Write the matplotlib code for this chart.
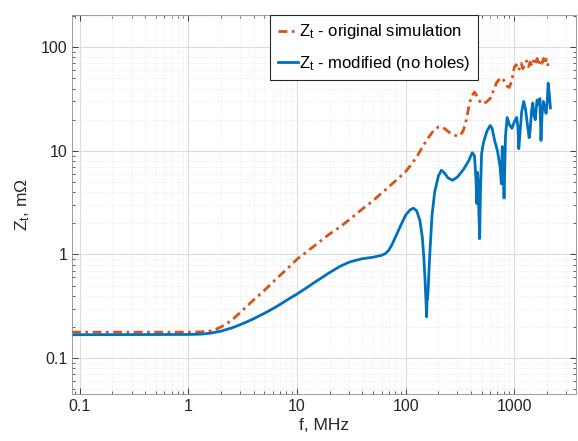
import numpy as np
import matplotlib.pyplot as plt
from matplotlib.ticker import LogLocator, NullFormatter, FixedLocator, FixedFormatter

plt.rcParams['font.family'] = ['Liberation Sans', 'DejaVu Sans']
plt.rcParams['mathtext.fontset'] = 'custom'
plt.rcParams['mathtext.rm'] = 'Liberation Sans'
plt.rcParams['mathtext.it'] = 'Liberation Sans'

# original simulation (orange, dash-dot)
f_orig = [0.085, 1.0, 1.3, 1.6, 1.8, 2.0, 2.3, 2.6, 3, 3.5, 4, 5, 6, 7, 8.5, 10,
          12, 15, 20, 25, 30, 40, 50, 60, 70, 85, 100, 115, 130, 145, 160,
          180, 200, 215, 230, 250, 270, 300, 320, 340, 360, 380, 400, 430,
          460, 490, 510, 550, 600, 650, 690, 730, 770, 810, 860, 900, 940,
          980, 1000, 1040, 1080, 1120, 1160, 1200, 1250, 1300, 1350, 1400,
          1450, 1500, 1560, 1620, 1680, 1740, 1800, 1860, 1920, 1980, 2050]
z_orig = [0.178, 0.178, 0.179, 0.183, 0.19, 0.2, 0.218, 0.24, 0.275, 0.32,
          0.365, 0.45, 0.54, 0.63, 0.76, 0.9, 1.04, 1.25, 1.58, 1.85, 2.15,
          2.75, 3.3, 3.9, 4.5, 5.4, 6.3, 7.6, 9.2, 11.2, 13.2, 15.6, 17.0,
          17.0, 16.3, 15.2, 14.4, 13.9, 14.2, 15.8, 19.5, 26, 33, 37, 33, 29,
          28.5, 29.5, 32, 39, 46, 49, 51, 47, 42, 41, 46, 57, 64, 68, 60, 63,
          70, 62, 69, 74, 65, 72, 66, 74, 68, 78, 67, 75, 70, 78, 69, 77, 66]

# modified, no holes (blue, solid)
f_mod = [0.085, 1.0, 1.3, 1.6, 2.0, 2.5, 3.0, 3.5, 4, 5, 6, 7, 8.5, 10, 12, 15,
         20, 25, 30, 35, 40, 50, 60, 65, 70, 75, 80, 90, 100, 110, 118, 126,
         135, 142, 147, 151, 154, 156, 157.5, 159, 161, 164, 168, 175, 185,
         200, 213, 225, 245, 270, 300, 340, 380, 410, 430, 445, 452, 458,
         465, 472, 480, 488, 500, 520, 560, 600, 625, 660, 700, 740, 760,
         775, 790, 805, 830, 860, 900, 950, 1000, 1050, 1080, 1100, 1130,
         1170, 1220, 1270, 1320, 1370, 1400, 1440, 1480, 1520, 1560, 1620,
         1680, 1720, 1760, 1800, 1850, 1900, 1960, 2010, 2050, 2100, 2150]
z_mod = [0.168, 0.169, 0.17, 0.174, 0.182, 0.195, 0.21, 0.225, 0.24, 0.27,
         0.3, 0.33, 0.375, 0.415, 0.47, 0.55, 0.67, 0.77, 0.84, 0.88, 0.91,
         0.94, 0.98, 1.02, 1.1, 1.25, 1.45, 1.9, 2.4, 2.7, 2.8, 2.65, 2.15,
         1.5, 0.95, 0.55, 0.35, 0.25, 0.4, 0.37, 0.45, 0.7, 1.15, 2.4, 4.0,
         5.7, 6.5, 6.2, 5.5, 5.2, 5.6, 6.6, 8.0, 9.6, 9.0, 5.0, 3.1, 6.2, 5.0,
         2.5, 1.42, 4.0, 9.4, 12, 15.5, 17.6, 16.5, 12.5, 10, 7.0, 4.8, 11,
         6.5, 3.5, 14, 21, 18, 16.5, 19, 21, 17, 10.5, 15, 24, 30, 25, 18, 13.4,
         16, 24, 29, 22, 20, 31, 28, 32, 12.6, 22, 30, 27, 23, 30, 45, 35, 26]

xticks = [0.1, 1, 10, 100, 1000]
xticklabels = ['0.1', '1', '10', '100', '1000']
yticks = [0.1, 1, 10, 100]
yticklabels = ['0.1', '1', '10', '100']

fig = plt.figure(figsize=(5.78, 4.41), dpi=100)
ax = fig.add_axes([0.1246, 0.1066, 0.872, 0.8594])

ax.plot(f_orig, z_orig, color='#D95319', lw=2, ls=(0, (3.2, 1.6, 1.0, 1.6)),
        label=r'$\mathregular{Z_t}$ - original simulation')
ax.plot(f_mod, z_mod, color='#0072BD', lw=2,
        label=r'$\mathregular{Z_t}$ - modified (no holes)')

ax.set_xscale('log')
ax.set_yscale('log')
ax.set_xlim(0.085, 3700)
ax.set_ylim(0.045, 205)

ax.xaxis.set_major_locator(FixedLocator(xticks))
ax.xaxis.set_major_formatter(FixedFormatter(xticklabels))
ax.yaxis.set_major_locator(FixedLocator(yticks))
ax.yaxis.set_major_formatter(FixedFormatter(yticklabels))
for axis in (ax.xaxis, ax.yaxis):
    axis.set_minor_locator(LogLocator(base=10, subs=np.arange(2, 10), numticks=20))
    axis.set_minor_formatter(NullFormatter())

ax.grid(which='major', color='#dcdcdc', lw=0.8, ls='-')
ax.grid(which='minor', color='#e6e6e6', lw=0.6, ls=':')
ax.set_axisbelow(True)

ax.tick_params(which='both', direction='in', top=True, right=True,
               colors='#262626', labelsize=11.5)
ax.tick_params(which='major', length=4, width=0.6)
ax.tick_params(which='minor', length=2.5, width=0.5)
for s in ax.spines.values():
    s.set_color('#8c8c8c')
    s.set_linewidth(0.6)

ax.set_xlabel('f, MHz', fontsize=12.5, color='#262626', labelpad=3)
ax.set_ylabel(r'$\mathregular{Z_t}$, m$\mathregular{\Omega}$', fontsize=12.5,
              color='#262626', labelpad=6)

leg = ax.legend(loc='upper left', bbox_to_anchor=(0.393, 1.0), fontsize=12,
                frameon=True, fancybox=False, framealpha=1, edgecolor='#262626',
                handlelength=1.2, handletextpad=0.1, borderpad=0.45,
                labelspacing=0.75, borderaxespad=0)
leg.get_frame().set_linewidth(0.8)

fig.savefig('out.png', dpi=100)
